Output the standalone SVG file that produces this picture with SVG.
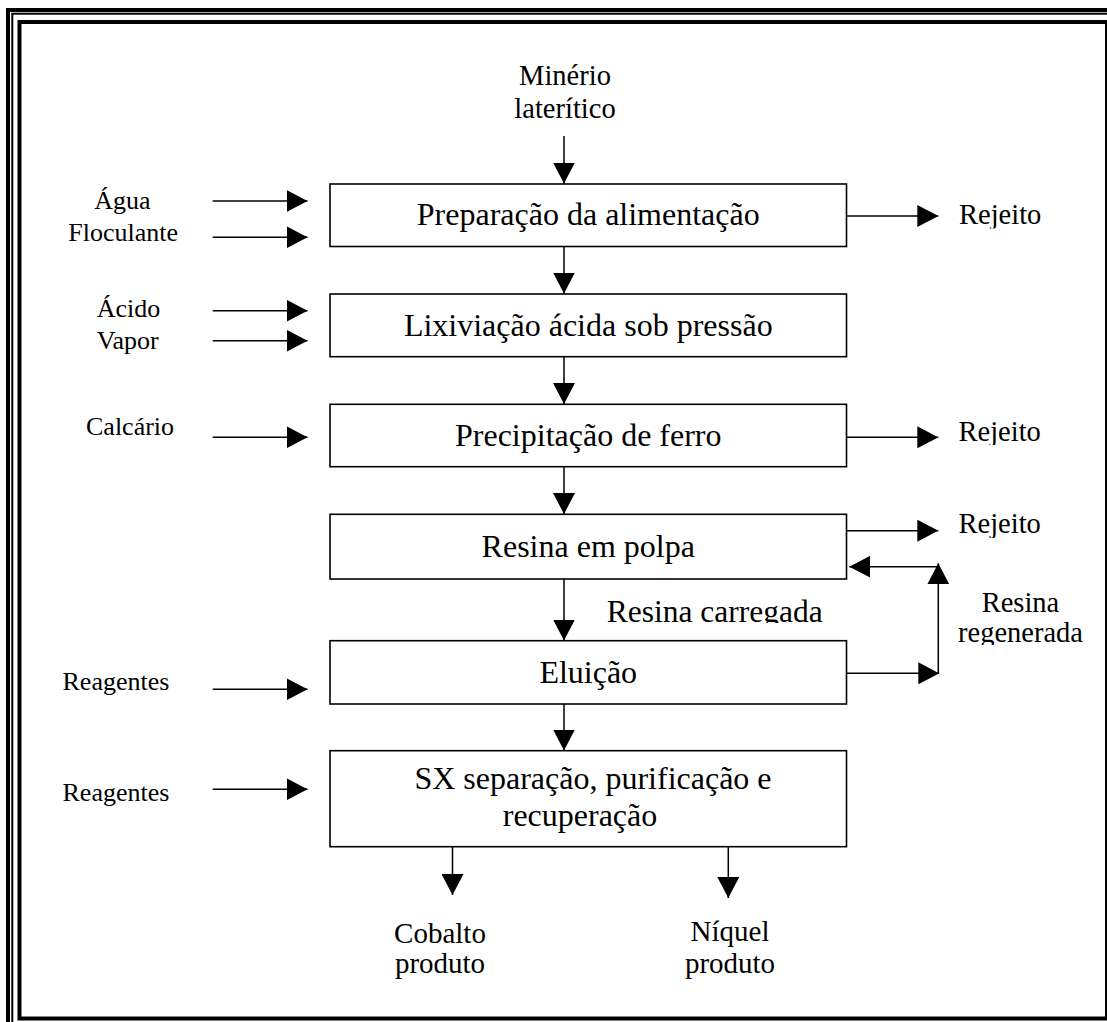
<svg xmlns="http://www.w3.org/2000/svg" width="1107" height="1022" viewBox="0 0 1107 1022">
<style>
  text { font-family: "Liberation Serif", "Times New Roman", serif; fill: #000; }
  .box { fill: #fff; stroke: #000; stroke-width: 1.6; }
  .bt { font-size: 32px; text-anchor: middle; }
  .lt { font-size: 26px; }
  .rt { font-size: 28.5px; }
  .bl { font-size: 29px; text-anchor: middle; }
  .conn line { stroke: #000; stroke-width: 1.5; fill: none; }
  .frame { fill: none; stroke: #000; }
</style>
<defs>
  <marker id="ah" viewBox="0 0 21 22" markerWidth="21" markerHeight="22" refX="21" refY="11" orient="auto" markerUnits="userSpaceOnUse">
    <path d="M0,0 L21,11 L0,22 Z" fill="#000"/>
  </marker>
  <clipPath id="clipRej1"><rect x="940" y="190" width="120" height="38.5"/></clipPath>
  <clipPath id="clipRej2"><rect x="940" y="405" width="120" height="40"/></clipPath>
  <clipPath id="clipRej3"><rect x="940" y="498" width="120" height="40"/></clipPath>
  <clipPath id="clipCarr"><rect x="590" y="590" width="250" height="33"/></clipPath>
  <clipPath id="clipRegen"><rect x="940" y="580" width="160" height="65"/></clipPath>
  <clipPath id="clipNiq"><rect x="670" y="910" width="98.5" height="40"/></clipPath>
</defs>
<rect width="1107" height="1022" fill="#fff"/>
<g id="frame">
  <rect class="frame" x="8" y="10" width="1130" height="1040" stroke-width="4"/>
  <rect class="frame" x="12.3" y="13.7" width="1120" height="1030" stroke-width="2"/>
  <rect class="frame" x="19.5" y="22" width="1087.5" height="996.5" stroke-width="4"/>
</g>

<g id="input-minerio">
  <text class="rt" x="565" y="85" text-anchor="middle">Minério</text>
  <text class="rt" x="565" y="118.3" text-anchor="middle">laterítico</text>
</g>

<g id="node-preparacao">
  <rect class="box" x="330" y="184" width="516.5" height="62.5"/>
  <text class="bt" x="588.25" y="225">Preparação da alimentação</text>
</g>
<g id="node-lixiviacao">
  <rect class="box" x="330" y="294" width="516.5" height="62.7"/>
  <text class="bt" x="588.25" y="335.5">Lixiviação ácida sob pressão</text>
</g>
<g id="node-precipitacao">
  <rect class="box" x="330" y="404.3" width="516.5" height="62.4"/>
  <text class="bt" x="588.25" y="445.5">Precipitação de ferro</text>
</g>
<g id="node-resina">
  <rect class="box" x="330" y="514.3" width="516.5" height="64.7"/>
  <text class="bt" x="588.25" y="556.7">Resina em polpa</text>
</g>
<g id="node-eluicao">
  <rect class="box" x="330" y="640.7" width="516.5" height="63.3"/>
  <text class="bt" x="588.25" y="682.7">Eluição</text>
</g>
<g id="node-sx">
  <rect class="box" x="330" y="750.7" width="516.5" height="96"/>
  <text class="bt" x="593" y="789">SX separação, purificação e</text>
  <text class="bt" x="580" y="826">recuperação</text>
</g>

<g id="inputs-left">
  <text class="lt" x="94.3" y="209.3">Água</text>
  <text class="lt" x="68.3" y="240.7">Floculante</text>
  <text class="lt" x="96.7" y="316.7">Ácido</text>
  <text class="lt" x="96.7" y="349">Vapor</text>
  <text class="lt" x="86" y="435">Calcário</text>
  <text class="lt" x="62.5" y="689.5">Reagentes</text>
  <text class="lt" x="62.5" y="800.7">Reagentes</text>
</g>

<g id="outputs-right">
  <text class="rt" x="959" y="224" clip-path="url(#clipRej1)">Rejeito</text>
  <text class="rt" x="958.5" y="440.7" clip-path="url(#clipRej2)">Rejeito</text>
  <text class="rt" x="958.5" y="533.3" clip-path="url(#clipRej3)">Rejeito</text>
  <g clip-path="url(#clipRegen)">
    <text class="rt" x="1020.5" y="611.7" text-anchor="middle">Resina</text>
    <text class="rt" x="1020.5" y="641.7" text-anchor="middle">regenerada</text>
  </g>
  <text x="606.7" y="621.5" font-size="31.5" clip-path="url(#clipCarr)">Resina carregada</text>
</g>

<g id="products">
  <text class="bl" x="440" y="942.7">Cobalto</text>
  <text class="bl" x="440" y="973">produto</text>
  <text class="bl" x="730" y="941" clip-path="url(#clipNiq)">Níquel</text>
  <text class="bl" x="730" y="973.3">produto</text>
</g>

<g id="connectors" class="conn">
  <line x1="564" y1="136" x2="564" y2="183.5" marker-end="url(#ah)"/>
  <line x1="564" y1="246.5" x2="564" y2="293.5" marker-end="url(#ah)"/>
  <line x1="564" y1="356.7" x2="564" y2="404" marker-end="url(#ah)"/>
  <line x1="564" y1="466.7" x2="564" y2="514" marker-end="url(#ah)"/>
  <line x1="564" y1="579" x2="564" y2="640.5" marker-end="url(#ah)"/>
  <line x1="564" y1="704" x2="564" y2="750.5" marker-end="url(#ah)"/>
  <line x1="452.5" y1="846.7" x2="452.5" y2="895" marker-end="url(#ah)"/>
  <line x1="728.3" y1="846.7" x2="728.3" y2="898" marker-end="url(#ah)"/>

  <line x1="212.7" y1="201" x2="307.5" y2="201" marker-end="url(#ah)"/>
  <line x1="212.7" y1="237.3" x2="307.5" y2="237.3" marker-end="url(#ah)"/>
  <line x1="212.7" y1="310.7" x2="307.5" y2="310.7" marker-end="url(#ah)"/>
  <line x1="212.7" y1="340.7" x2="307.5" y2="340.7" marker-end="url(#ah)"/>
  <line x1="212.7" y1="437.3" x2="307.5" y2="437.3" marker-end="url(#ah)"/>
  <line x1="212.7" y1="689.3" x2="307.5" y2="689.3" marker-end="url(#ah)"/>
  <line x1="212.7" y1="789.3" x2="307.5" y2="789.3" marker-end="url(#ah)"/>

  <line x1="846.5" y1="216" x2="938.3" y2="216" marker-end="url(#ah)"/>
  <line x1="846.5" y1="437.3" x2="938.3" y2="437.3" marker-end="url(#ah)"/>
  <line x1="846.5" y1="530.7" x2="938.3" y2="530.7" marker-end="url(#ah)"/>

  <line x1="846.5" y1="673.3" x2="939.3" y2="673.3" marker-end="url(#ah)"/>
  <line x1="938.3" y1="673.3" x2="938.3" y2="563.3" marker-end="url(#ah)"/>
  <line x1="938.3" y1="566.7" x2="849.3" y2="566.7" marker-end="url(#ah)"/>
</g>
</svg>
